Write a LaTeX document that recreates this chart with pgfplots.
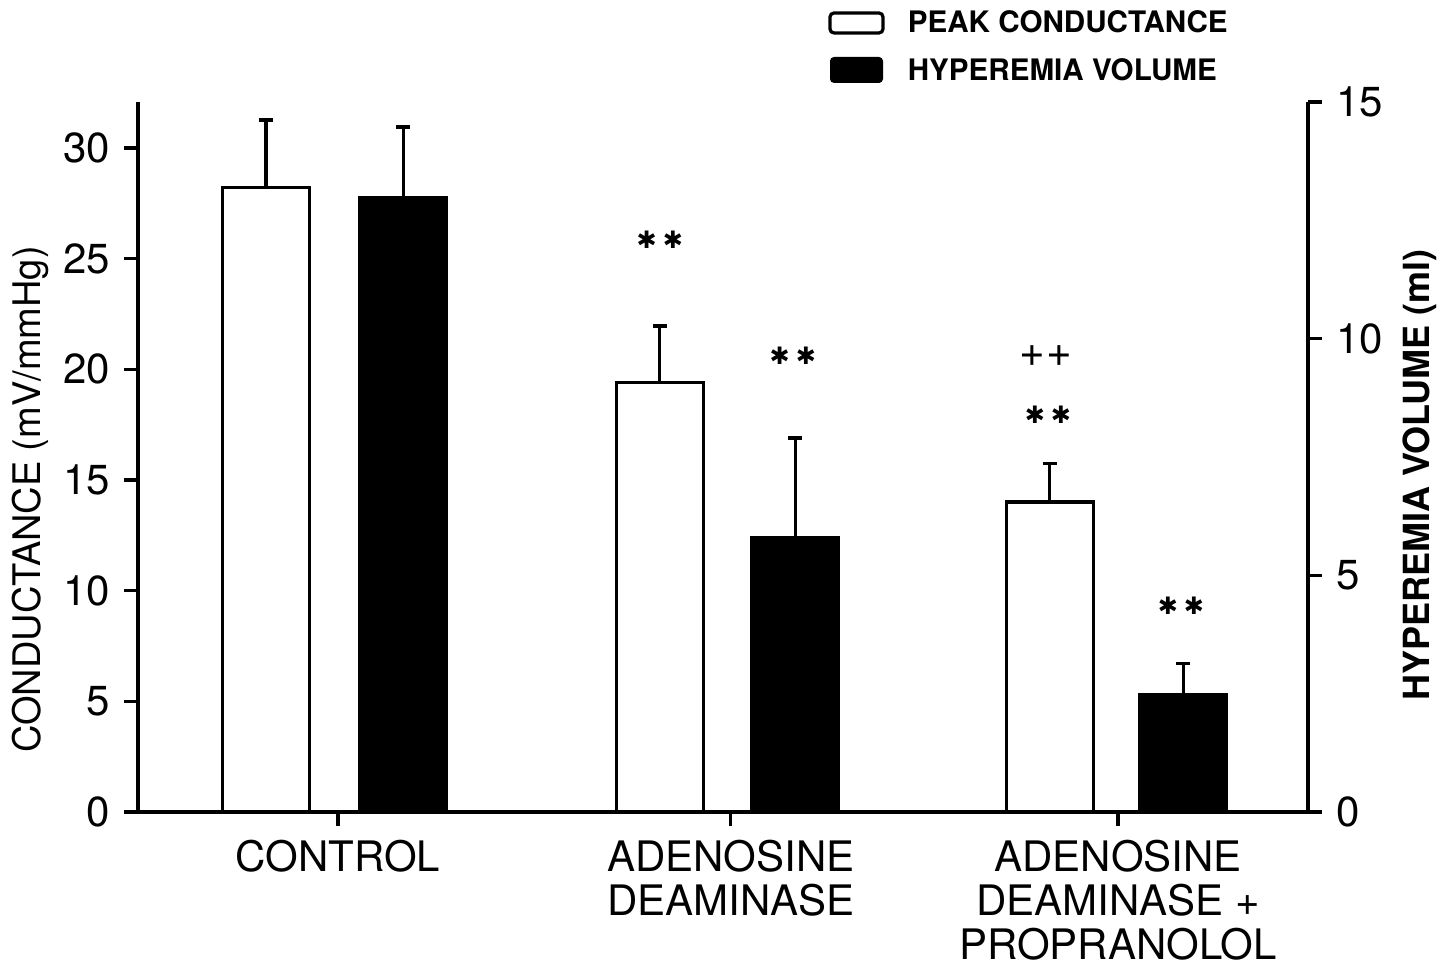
\documentclass[border=0pt]{standalone}
\usepackage{fontspec}
\setmainfont{TeX Gyre Heros}
\newfontfamily\dejavu{DejaVu Sans}
\usepackage{pgfplots}
\pgfplotsset{compat=1.18}
\begin{document}
\begin{tikzpicture}
\tikzset{stars/.style={font=\dejavu\fontsize{6}{6}\selectfont}}
\pgfplotsset{
  common/.style={
    scale only axis, width=292.5pt, height=177.5pt,
    xmin=-0.5, xmax=2.5, ymin=0,
    tick align=outside, major tick length=3.5pt,
    every tick/.style={black, line width=0.8pt},
    axis line style={line width=1pt, -},
    /pgf/number format/assume math mode=true,
    ticklabel style={font=\fontsize{10.5}{11}\selectfont},
    clip=false,
  },
}
\begin{axis}[common, ymax=32.08,
  axis x line*=bottom, axis y line*=left,
  xtick={0.013,1.02,2.013},
  xticklabels={CONTROL, {ADENOSINE\\DEAMINASE}, {ADENOSINE\\DEAMINASE +\\PROPRANOLOL}},
  xticklabel style={align=center},
  ytick={0,5,...,30},
  x axis line style={shorten >=-3pt},
]
\addplot[ybar, bar width=0.2225, bar shift=0pt, fill=white, draw=black, line width=0.8pt,
  error bars/.cd, y dir=plus, y explicit, error bar style={line width=0.8pt},
  error mark=-, error mark options={rotate=90, mark size=1.75pt, line width=0.8pt}]
  coordinates {(-0.172,28.2) +- (0,3.07) (0.838,19.39) +- (0,2.57) (1.838,14.01) +- (0,1.72)};
\node[stars] at (axis cs:0.838,25.85) {✱\hspace{1.5pt}✱};
\node[stars] at (axis cs:1.179,20.6) {✱\hspace{1.5pt}✱};
\node[font=\fontsize{11}{11}\selectfont] at (axis cs:1.828,20.6) {+\hspace{0.3pt}+};
\node[stars] at (axis cs:1.833,17.94) {✱\hspace{1.5pt}✱};
\node[stars] at (axis cs:2.174,9.31) {✱\hspace{1.5pt}✱};
\node[rotate=90, font=\fontsize{9.5}{10}\selectfont] at (rel axis cs:-0.0923,0.44) {CONDUCTANCE (mV/mmHg)};
\end{axis}
\begin{axis}[common, ymax=15,
  axis x line=none, axis y line*=right,
  ytick={0,5,10,15}, xtick=\empty,
]
\addplot[ybar, bar width=0.2225, bar shift=0pt, fill=black, draw=black, line width=0.8pt,
  error bars/.cd, y dir=plus, y explicit, error bar style={line width=0.8pt},
  error mark=-, error mark options={rotate=90, mark size=1.75pt, line width=0.8pt}]
  coordinates {(0.18,12.97) +- (0,1.5) (1.185,5.79) +- (0,2.11) (2.18,2.47) +- (0,0.66)};
\node[rotate=90, font=\bfseries\fontsize{9}{10}\selectfont] at (rel axis cs:1.0957,0.4746) {HYPEREMIA VOLUME (ml)};
\end{axis}
% legend
\draw[line width=0.8pt, rounded corners=1pt] (173pt,194.75pt) rectangle (186.25pt,199.75pt);
\fill[rounded corners=1pt] (173pt,182.25pt) rectangle (186.25pt,188.75pt);
\node[anchor=west, inner sep=0pt, font=\bfseries\fontsize{7.4}{8}\selectfont] at (192.25pt,197.5pt) {PEAK CONDUCTANCE};
\node[anchor=west, inner sep=0pt, font=\bfseries\fontsize{7.4}{8}\selectfont] at (192.25pt,185.5pt) {HYPEREMIA VOLUME};
\pgfresetboundingbox
\path[use as bounding box] (-34.5pt,-39.5pt) rectangle (329pt,203pt);
\end{tikzpicture}
\end{document}
